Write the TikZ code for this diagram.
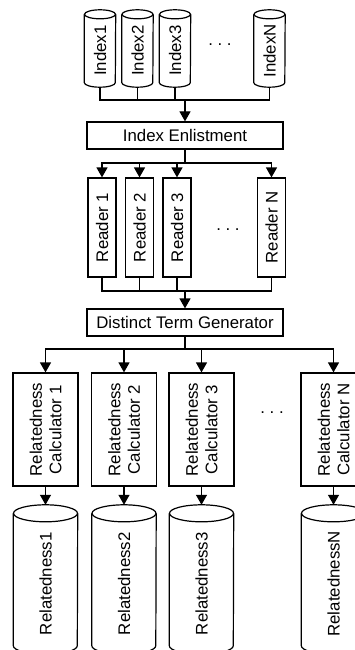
\documentclass[tikz,border=0pt]{standalone}
\usepackage{fontspec}
\setmainfont{Liberation Sans}
\usetikzlibrary{arrows.meta,positioning}

% outline of a store: #1 node, #2 half width, #3 half height of the caps
\newcommand{\drawdb}[3]{%
  \draw[line] (#1.north west) -- ([yshift=#3]#1.south west)
    arc[start angle=180, end angle=360, x radius=#2, y radius=#3]
    -- (#1.north east);
  \draw[line] (#1.north) ellipse[x radius=#2, y radius=#3];
}

\begin{document}
\begin{tikzpicture}[
  x=1pt, y=1pt,
  every node/.style={font=\fontsize{16.8}{19.5}\selectfont},
  box/.style={draw, line width=1.2pt, inner sep=0pt, align=center},
  vbox/.style={box, rotate=90},
  db/.style={inner sep=0pt},
  line/.style={line width=1.2pt},
  arr/.style={line, -{Triangle[width=11pt,length=10pt]}}
]
\fill[white] (0,0) rectangle (355,-650);
\useasboundingbox (0,0) rectangle (355,-650);

% indexes
\node[db, minimum height=72.5pt, minimum width=31pt] (idx1) at (100,-50.75) {\rotatebox{90}{Index1}};
\node[db, minimum height=72.5pt, minimum width=31pt] (idx2) at (137.5,-50.75) {\rotatebox{90}{Index2}};
\node[db, minimum height=72.5pt, minimum width=31pt] (idx3) at (175,-50.75) {\rotatebox{90}{Index3}};
\node[db, minimum height=72.5pt, minimum width=31pt] (idxN) at (269.5,-50.75) {\rotatebox{90}{IndexN}};
\node (idots) at (220,-45) {.\ .\ .};

\node[box, minimum width=196pt, minimum height=27pt] (enlist) at (185,-135.5) {Index Enlistment};

% readers
\node[vbox, minimum width=99pt, minimum height=28pt] (rd1) at (102,-227.5) {Reader 1};
\node[vbox, minimum width=99pt, minimum height=28pt] (rd2) at (139.5,-227.5) {Reader 2};
\node[vbox, minimum width=99pt, minimum height=28pt] (rd3) at (177,-227.5) {Reader 3};
\node[vbox, minimum width=99pt, minimum height=28pt] (rdN) at (271.5,-227.5) {Reader N};
\node (rdots) at (228,-230) {.\ .\ .};

\node[box, minimum width=196pt, minimum height=27pt] (dtg) at (185,-322.5) {Distinct Term Generator};

% calculators
\node[vbox, minimum width=113pt, minimum height=65pt] (calc1) at (45.5,-429.5) {Relatedness\\Calculator 1};
\node[vbox, minimum width=113pt, minimum height=65pt] (calc2) at (124,-429.5) {Relatedness\\Calculator 2};
\node[vbox, minimum width=113pt, minimum height=65pt] (calc3) at (201.5,-429.5) {Relatedness\\Calculator 3};
\node[vbox, minimum width=113pt, minimum height=65pt] (calcN) at (333.5,-429.5) {Relatedness\\Calculator N};
\node (cdots) at (272,-413) {.\ .\ .};

% relatedness stores
\node[db, minimum height=140.5pt, minimum width=64pt] (rel1) at (45.5,-583.75) {\rotatebox{90}{Relatedness1}};
\node[db, minimum height=140.5pt, minimum width=64pt] (rel2) at (124,-583.75) {\rotatebox{90}{Relatedness2}};
\node[db, minimum height=140.5pt, minimum width=64pt] (rel3) at (201.5,-583.75) {\rotatebox{90}{Relatedness3}};
\node[db, minimum height=140.5pt, minimum width=64pt] (relN) at (333.5,-583.75) {\rotatebox{90}{RelatednessN}};

\drawdb{idx1}{15.5pt}{4.5pt}
\drawdb{idx2}{15.5pt}{4.5pt}
\drawdb{idx3}{15.5pt}{4.5pt}
\drawdb{idxN}{15.5pt}{4.5pt}
\drawdb{rel1}{32pt}{8.5pt}
\drawdb{rel2}{32pt}{8.5pt}
\drawdb{rel3}{32pt}{8.5pt}
\drawdb{relN}{32pt}{8.5pt}

\coordinate (ibus) at (185,-100);
\coordinate (rbus) at (185,-163);
\coordinate (dbus) at (185,-291);
\coordinate (cbus) at (185,-349);

\draw[line] (idx1.south) |- (ibus);
\draw[line] (idx2.south) |- (ibus);
\draw[line] (idx3.south) |- (ibus);
\draw[line] (idxN.south) |- (ibus);
\draw[arr] (ibus) -- (enlist);

\draw[line] (enlist) -- (rbus);
\draw[arr] (rbus) -| (rd1.east);
\draw[arr] (rbus) -| (rd2.east);
\draw[arr] (rbus) -| (rd3.east);
\draw[arr] (rbus) -| (rdN.east);

\draw[line] (rd1.west) |- (dbus);
\draw[line] (rd2.west) |- (dbus);
\draw[line] (rd3.west) |- (dbus);
\draw[line] (rdN.west) |- (dbus);
\draw[arr] (dbus) -- (dtg);

\draw[line] (dtg) -- (cbus);
\draw[arr] (cbus) -| (calc1.east);
\draw[arr] (cbus) -| (calc2.east);
\draw[arr] (cbus) -| (calc3.east);
\draw[arr] (cbus) -| (calcN.east);

\draw[arr] (calc1.west) -- ([yshift=8.5pt]rel1.north);
\draw[arr] (calc2.west) -- ([yshift=8.5pt]rel2.north);
\draw[arr] (calc3.west) -- ([yshift=8.5pt]rel3.north);
\draw[arr] (calcN.west) -- ([yshift=8.5pt]relN.north);
\end{tikzpicture}
\end{document}
